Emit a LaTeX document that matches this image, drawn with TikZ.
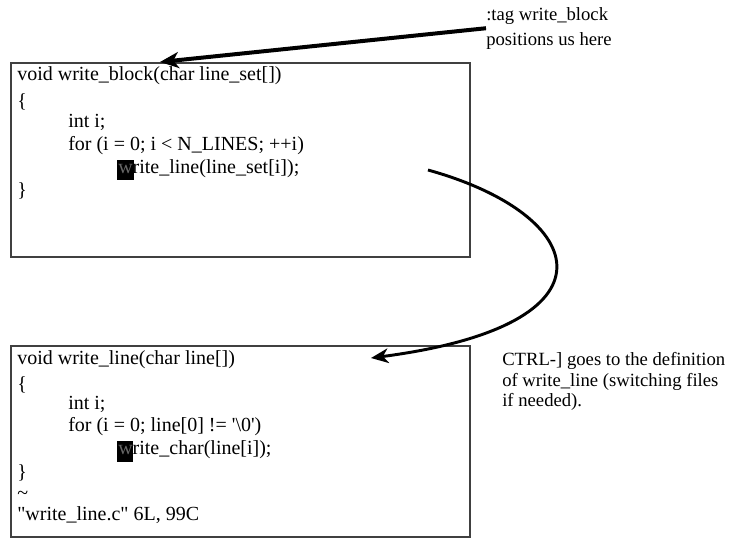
\documentclass[tikz,border=0pt]{standalone}
\usepackage{fontspec}
\setmainfont{Liberation Serif}[Ligatures=TeXOff]
\usepackage{xcolor}
\usetikzlibrary{arrows.meta,positioning}

\begin{document}
\begin{tikzpicture}[
  x=0.75pt,
  y=-0.75pt,
  screenBox/.style={draw=black!75, line width=1.6pt},
  codeLine/.style={font=\fontsize{15}{18}\selectfont, anchor=base west, inner sep=0pt},
  tagNote/.style={font=\fontsize{14}{18.75}\selectfont, anchor=north west, inner sep=0pt, align=left},
  ctrlNote/.style={font=\fontsize{14}{15.5}\selectfont, anchor=north west, inner sep=0pt, align=left},
  cursorMark/.style={fill=black},
  tagArrow/.style={-{Stealth[length=14pt, width=12pt, inset=4pt]}, line width=3pt},
  jumpArrow/.style={-{Stealth[length=13pt, width=11pt, inset=4pt]}, line width=2.2pt}
]
\useasboundingbox (0,0) rectangle (732,539);

% the two editor windows
\draw[screenBox] (11,63) rectangle (470,257);
\draw[screenBox] (11,346) rectangle (470,537);

% cursor cells
\fill[cursorMark] (117,160) rectangle (134,180);
\fill[cursorMark] (117,441) rectangle (133,462);

% write_block window
\node[codeLine] (blockSig) at (17,80) {void write\_block(char line\_set[])};
\node[codeLine] (blockOpen) at (17,107) {\{};
\node[codeLine] (blockDecl) at (68,127) {int i;};
\node[codeLine] (blockFor) at (68,150) {for (i = 0; i < N\_LINES; ++i)};
\node[codeLine] (blockCall) at (118,173) {{\color{black!60}w}rite\_line(line\_set[i]);};
\node[codeLine] (blockClose) at (17,196) {\}};

% write_line window
\node[codeLine] (lineSig) at (17,364) {void write\_line(char line[])};
\node[codeLine] (lineOpen) at (17,390) {\{};
\node[codeLine] (lineDecl) at (68,409) {int i;};
\node[codeLine] (lineFor) at (68,431) {for (i = 0; line[0] != '\textbackslash 0')};
\node[codeLine] (lineCall) at (118,454) {{\color{black!60}w}rite\_char(line[i]);};
\node[codeLine] (lineClose) at (17,478) {\}};
\node[codeLine] (lineTilde) at (17,499) {\textasciitilde};
\node[codeLine] (lineStatus) at (17,520) {"write\_line.c" 6L, 99C};

% notes
\node[tagNote] (tagText) at (486,7) {:tag write\_block\\positions us here};
\node[ctrlNote] (ctrlText) at (502,352) {CTRL-] goes to the definition\\of write\_line (switching files\\if needed).};

\coordinate (tagSpot) at (160,62);
\coordinate (jumpStart) at (428,170);
\coordinate (jumpEnd) at (371,358);

\draw[tagArrow] (tagText.west) -- (tagSpot);
\draw[jumpArrow] (jumpStart) .. controls (590,215) and (625,325) .. (jumpEnd);
\end{tikzpicture}
\end{document}
